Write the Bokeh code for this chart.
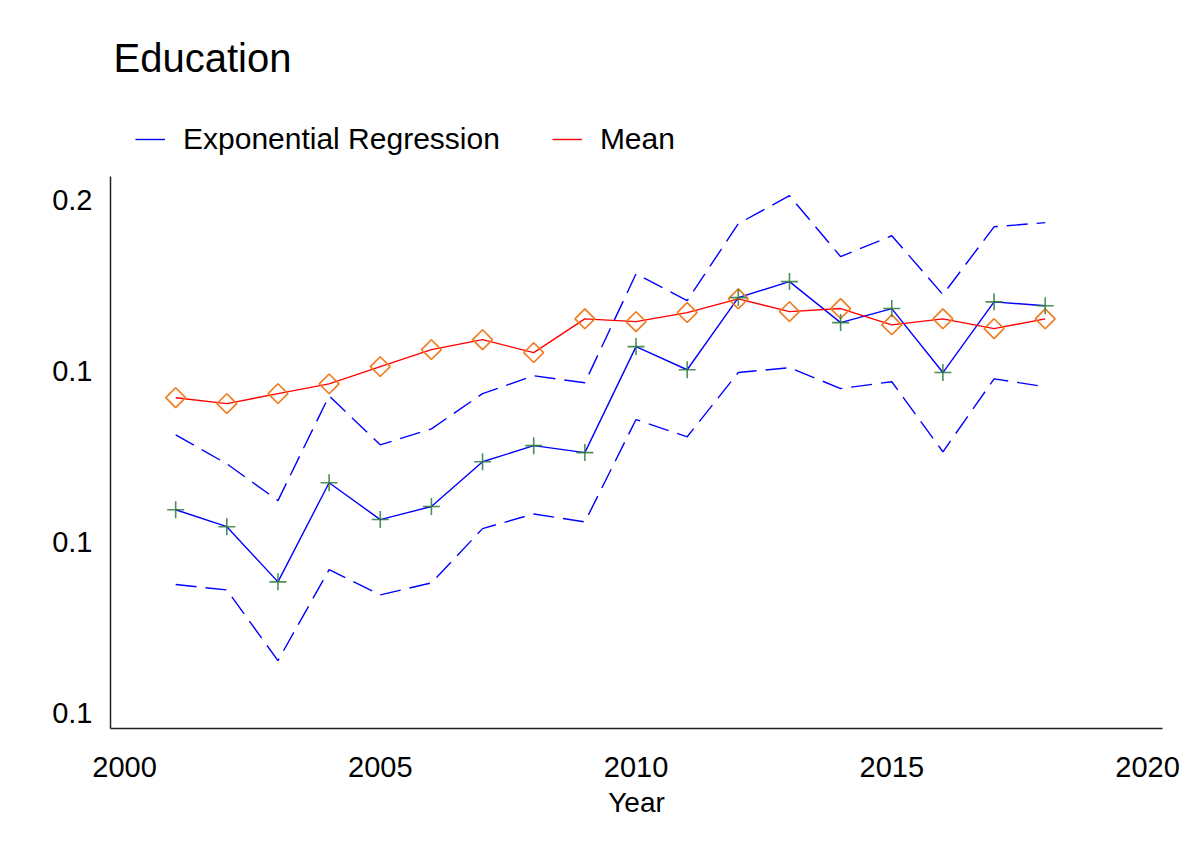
import numpy as np
from bokeh.plotting import figure
from bokeh.models import (Range1d, FixedTicker, CustomJSTickFormatter, Legend, LegendItem,
                          ColumnDataSource)
from bokeh.embed import file_html
from bokeh.resources import INLINE

years = list(range(2001, 2019))
mean_vals = [0.1339, 0.1323, 0.1350, 0.1377, 0.1426, 0.1476, 0.1506, 0.1467, 0.1571,
             0.1562, 0.1591, 0.1636, 0.1594, 0.1604, 0.1552, 0.1571, 0.1540, 0.1571]
regression = [0.1067, 0.1031, 0.0922, 0.1127, 0.1046, 0.1074, 0.1176, 0.1215, 0.1198,
              0.1485, 0.1417, 0.1640, 0.1694, 0.1559, 0.1604, 0.1409, 0.1626, 0.1613]
upper = [0.1242, 0.1171, 0.1087, 0.1344, 0.1217, 0.1257, 0.1350, 0.1400, 0.1380,
         0.1721, 0.1630, 0.1905, 0.2016, 0.1782, 0.1859, 0.1650, 0.1893, 0.1909]
lower = [0.0917, 0.0907, 0.0786, 0.0945, 0.0898, 0.0920, 0.1027, 0.1058, 0.1041,
         0.1281, 0.1237, 0.1409, 0.1423, 0.1364, 0.1383, 0.1200, 0.1391, 0.1369]

x_ticks = [2000, 2005, 2010, 2015, 2020]
y_ticks = [0.0707, 0.1, 0.1414, 0.2]
y_tick_labels = ["0.1", "0.1", "0.1", "0.2"]

FONT = "Liberation Sans"

y_axis_start, y_axis_end = 0.0685, 0.2096   # extent of the drawn y axis
y_view_end = 0.2396                           # extra room above for the legend

src = ColumnDataSource(dict(year=years, mean=mean_vals, reg=regression, up=upper, lo=lower))

p = figure(width=1180, height=850, output_backend="svg", toolbar_location=None,
           y_axis_type="log",
           x_range=Range1d(1999.726, 2020.293), y_range=Range1d(y_axis_start, y_view_end),
           min_border_left=110, min_border_right=18, min_border_top=110, min_border_bottom=122,
           title="Education")

p.title.text_font = FONT
p.title.text_font_size = "40px"
p.title.text_font_style = "normal"
p.title.text_color = "black"
p.title.offset = 3
p.title.standoff = 61

p.outline_line_color = None
p.xgrid.visible = False
p.ygrid.visible = False
p.background_fill_color = "white"

for ax in (p.xaxis[0], p.yaxis[0]):
    ax.major_tick_line_color = None
    ax.minor_tick_line_color = None
    ax.axis_line_color = "#222222"
    ax.axis_line_width = 1.5
    ax.major_label_text_font = FONT
    ax.major_label_text_font_size = "29px"
    ax.major_label_text_color = "black"

p.xaxis.ticker = FixedTicker(ticks=x_ticks)
p.xaxis.major_label_standoff = 22
p.xaxis.axis_label = "Year"
p.xaxis.axis_label_text_font = FONT
p.xaxis.axis_label_text_font_size = "28px"
p.xaxis.axis_label_text_font_style = "normal"
p.xaxis.axis_label_text_color = "black"
p.xaxis.axis_label_standoff = 7

p.yaxis.ticker = FixedTicker(ticks=y_ticks, minor_ticks=[])
p.yaxis.formatter = CustomJSTickFormatter(args=dict(labels=y_tick_labels), code="return labels[index];")
p.yaxis.major_label_standoff = 12
p.yaxis.bounds = (y_axis_start, y_axis_end)

dash = "21 9"
p.line("year", "up", source=src, color="#0000ff", line_width=1.4, line_dash=dash)
p.line("year", "lo", source=src, color="#0000ff", line_width=1.4, line_dash=dash)
reg_line = p.line("year", "reg", source=src, color="#0000ff", line_width=1.4)
mean_line = p.line("year", "mean", source=src, color="#ff0000", line_width=1.4)
p.scatter("year", "mean", source=src, marker="square", angle=np.pi / 4, size=14,
          fill_color=None, line_color="#f07a1c", line_width=1.6)
p.scatter("year", "reg", source=src, marker="cross", size=17, line_color="#2e7d3a",
          line_width=1.6, line_alpha=0.85)

legend = Legend(items=[LegendItem(label="Exponential Regression", renderers=[reg_line]),
                       LegendItem(label="Mean", renderers=[mean_line])],
                orientation="horizontal", location=(25, 572),
                border_line_color=None, background_fill_alpha=0,
                label_text_font=FONT, label_text_font_size="30px", label_text_color="black",
                glyph_width=30, label_standoff=18, spacing=52, padding=0, margin=0)
p.add_layout(legend, "center")

open("out.html", "w").write(file_html(p, INLINE))
